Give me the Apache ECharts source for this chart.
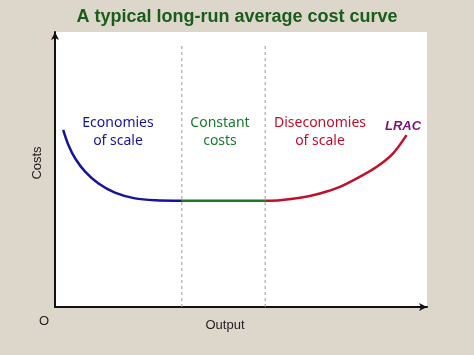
<!DOCTYPE html>
<html lang="en">
<head>
    <meta charset="UTF-8">
    <title>LRAC</title>
    <style>
        html, body { margin: 0; padding: 0; background: #ddd6cb; }
    </style>
</head>
<body>
<div id="main" style="width: 474px;height:355px;"></div>
<script src="https://cdn.jsdelivr.net/npm/echarts@6/dist/echarts.min.js"></script>
<script>
    // falling part (economies of scale)
    var economiesX = [2.2, 3.6, 5.4, 8.1, 11.6, 16.1, 21.5, 26.9, 34.1];
    var economiesY = [64.4, 58.9, 54.1, 49.2, 45.0, 41.6, 39.5, 38.8, 38.6];
    // flat part (constant costs)
    var constantX = [34.1, 56.5];
    var constantY = [38.6, 38.6];
    // rising part (diseconomies of scale)
    var diseconomiesX = [56.5, 60.5, 65.9, 71.2, 76.6, 82.0, 86.5, 90.9, 94.5];
    var diseconomiesY = [38.6, 38.8, 39.7, 41.3, 43.7, 47.4, 51.0, 55.9, 62.5];
    // dashed dividers
    var dividerX = [34.1, 56.5];
    var dividerTop = 96;

    function pairs(xs, ys) {
        var out = [];
        for (var i = 0; i < xs.length; i++) out.push([xs[i], ys[i]]);
        return out;
    }

    var myChart = echarts.init(document.getElementById('main'));

    var textFont = '"Noto Sans", sans-serif';

    var series = [];
    dividerX.forEach(function (x) {
        series.push({
            type: 'line',
            data: [[x, 0], [x, dividerTop]],
            symbol: 'none',
            lineStyle: {color: '#9a9a9a', width: 1, type: [3, 3]},
            z: 1
        });
    });
    series.push({
        type: 'line', smooth: 0.3, symbol: 'none',
        data: pairs(economiesX, economiesY),
        lineStyle: {color: '#1414a0', width: 2.5}, z: 3
    });
    series.push({
        type: 'line', symbol: 'none',
        data: pairs(constantX, constantY),
        lineStyle: {color: '#1a7a2a', width: 2.5}, z: 3
    });
    series.push({
        type: 'line', smooth: 0.3, symbol: 'none',
        data: pairs(diseconomiesX, diseconomiesY),
        lineStyle: {color: '#c0102a', width: 2.5}, z: 3
    });

    function label(x, y, text, color, font) {
        return {
            type: 'text', x: x, y: y,
            style: {text: text, font: font, fill: color, align: 'center', verticalAlign: 'top', lineHeight: 18}
        };
    }

    var option = {
        backgroundColor: '#ddd6cb',
        animation: false,
        title: {
            text: 'A typical long-run average cost curve',
            left: 'center',
            top: 3,
            textStyle: {
                color: '#1a5c1a',
                fontFamily: '"Liberation Sans", Arial, sans-serif',
                fontWeight: 'bold',
                fontSize: 18
            }
        },
        grid: {
            left: 55, right: 47, top: 32, bottom: 48,
            show: true, backgroundColor: '#ffffff', borderWidth: 0
        },
        xAxis: {
            type: 'value', min: 0, max: 100,
            axisLine: {lineStyle: {color: '#111', width: 2}, symbol: ['none', 'arrow'], symbolSize: [6, 8]},
            axisTick: {show: false}, axisLabel: {show: false}, splitLine: {show: false}
        },
        yAxis: {
            type: 'value', min: 0, max: 100,
            axisLine: {show: true, lineStyle: {color: '#111', width: 2}, symbol: ['none', 'arrow'], symbolSize: [6, 8]},
            axisTick: {show: false}, axisLabel: {show: false}, splitLine: {show: false}
        },
        graphic: [
            label(44, 312, 'O', '#222', '13px "Liberation Sans", Arial'),
            label(225, 316, 'Output', '#222', '13px "Liberation Sans", Arial'),
            {type: 'text', x: 37, y: 163, rotation: Math.PI / 2,
                style: {text: 'Costs', font: '13px "Liberation Sans", Arial', fill: '#222', align: 'center', verticalAlign: 'middle'}},
            label(118, 114, 'Economies\nof scale', '#1414a0', '14px ' + textFont),
            label(220, 114, 'Constant\ncosts', '#1a7a2a', '14px ' + textFont),
            label(320, 114, 'Diseconomies\nof scale', '#c0102a', '14px ' + textFont),
            label(403, 117, 'LRAC', '#7a1478', 'italic bold 13px "Liberation Sans", Arial')
        ],
        series: series
    };
    myChart.setOption(option);
</script>
</body>
</html>
